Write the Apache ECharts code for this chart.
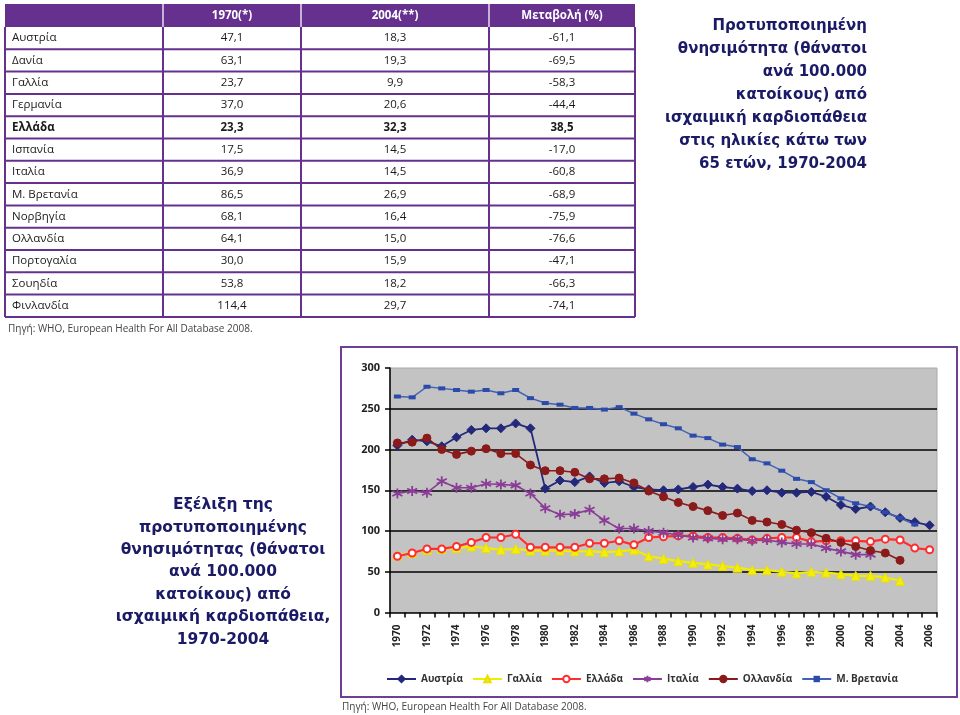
<!DOCTYPE html>
<html><head><meta charset="utf-8">
<script src="https://cdn.jsdelivr.net/npm/echarts@6/dist/echarts.min.js"></script>
<style>html,body{margin:0;padding:0;background:#fff}#main{width:960px;height:715px}</style>
</head><body><div id="main"></div>
<script>
// ---------- data ----------
const years = ['1970','1971','1972','1973','1974','1975','1976','1977','1978','1979',
  '1980','1981','1982','1983','1984','1985','1986','1987','1988','1989',
  '1990','1991','1992','1993','1994','1995','1996','1997','1998','1999',
  '2000','2001','2002','2003','2004','2005','2006'];
const austria = [205,212,210,204,215,224,226,226,232,226, 152,162,160,167,159,161,154,151,150,151,
  154,157,154,152,149,150,147,147,148,142, 132,127,130,123,116,111,107];
const france = [70,73,77,78,79,81,79,77,78,76, 76,76,75,75,74,75,77,69,66,63,
  61,59,57,55,52,52,50,48,50,49, 47,45,45,43,39,null,null];
const greece = [69,73,78,78,81,86,92,92,96,80, 80,80,80,85,85,88,83,92,93,94,
  94,92,92,91,89,91,92,92,87,88, 88,88,87,90,89,79,77];
const italy = [146,149,147,161,153,153,158,157,156,146, 128,120,121,126,113,103,103,100,98,95,
  92,91,90,90,88,89,86,84,84,79, 75,71,71,null,null,null,null];
const netherlands = [208,209,214,200,194,198,201,195,195,181, 174,174,172,164,164,165,159,149,142,135,
  130,125,119,122,113,111,108,101,98,91, 86,81,76,73,64,null,null];
const uk = [265,264,277,275,273,271,273,269,273,263, 257,255,251,251,249,252,244,237,231,226,
  217,214,206,203,188,183,174,164,160,150, 140,134,130,123,116,108,null];
const seriesNames = ['Αυστρία','Γαλλία','Ελλάδα','Ιταλία','Ολλανδία','Μ. Βρετανία'];
const yTicks = [0,50,100,150,200,250,300];

const tableHeader = ['', '1970(*)', '2004(**)', 'Μεταβολή (%)'];
const countries = ['Αυστρία','Δανία','Γαλλία','Γερμανία','Ελλάδα','Ισπανία','Ιταλία','Μ. Βρετανία','Νορβηγία','Ολλανδία','Πορτογαλία','Σουηδία','Φινλανδία'];
const rate1970 = ['47,1','63,1','23,7','37,0','23,3','17,5','36,9','86,5','68,1','64,1','30,0','53,8','114,4'];
const rate2004 = ['18,3','19,3','9,9','20,6','32,3','14,5','14,5','26,9','16,4','15,0','15,9','18,2','29,7'];
const changePct = ['-61,1','-69,5','-58,3','-44,4','38,5','-17,0','-60,8','-68,9','-75,9','-76,6','-47,1','-66,3','-74,1'];
const boldRow = 'Ελλάδα';

const titleRight = 'Προτυποποιημένη\nθνησιμότητα (θάνατοι\nανά 100.000\nκατοίκους) από\nισχαιμική καρδιοπάθεια\nστις ηλικίες κάτω των\n65 ετών, 1970-2004';
const titleLeft = 'Εξέλιξη της\nπροτυποποιημένης\nθνησιμότητας (θάνατοι\nανά 100.000\nκατοίκους) από\nισχαιμική καρδιοπάθεια,\n1970-2004';
const sourceText = 'Πηγή: WHO, European Health For All Database 2008.';

// ---------- layout ----------
const PURPLE = '#66308f';
const colX = [5, 163, 301, 489, 635];
const headTop = 4, headBot = 27, rowH = 22.3;
const tableFont = '11.5px "Open Sans", "DejaVu Sans", sans-serif';

const g = [];
g.push({type:'rect', shape:{x:colX[0], y:headTop, width:colX[4]-colX[0], height:headBot-headTop}, style:{fill:PURPLE}});
for (let c = 1; c < 4; c++) {
  g.push({type:'line', shape:{x1:colX[c], y1:headTop, x2:colX[c], y2:headBot}, style:{stroke:'#e6dcef', lineWidth:1.5}});
  g.push({type:'text', x:(colX[c]+colX[c+1])/2, y:(headTop+headBot)/2,
    style:{text:tableHeader[c], fill:'#fff', font:'bold 11.5px "Open Sans", "DejaVu Sans", sans-serif', textAlign:'center', textVerticalAlign:'middle'}});
}
const tableBottom = headBot + rowH*countries.length;
for (let c = 0; c < 5; c++) {
  g.push({type:'line', shape:{x1:colX[c], y1:headBot, x2:colX[c], y2:tableBottom}, style:{stroke:PURPLE, lineWidth:2}});
}
countries.forEach((name, i) => {
  const y1 = headBot + rowH*(i+1);
  g.push({type:'line', shape:{x1:colX[0], y1:y1, x2:colX[4], y2:y1}, style:{stroke:PURPLE, lineWidth:2}});
  const cy = headBot + rowH*(i+0.5);
  const f = (name === boldRow ? 'bold ' : '') + tableFont;
  g.push({type:'text', x:colX[0]+7, y:cy, style:{text:name, fill:'#1a1a1a', font:f, textAlign:'left', textVerticalAlign:'middle'}});
  [rate1970[i], rate2004[i], changePct[i]].forEach((t, k) => {
    g.push({type:'text', x:(colX[k+1]+colX[k+2])/2, y:cy, style:{text:t, fill:'#1a1a1a', font:f, textAlign:'center', textVerticalAlign:'middle'}});
  });
});
g.push({type:'text', x:8, y:329, style:{text:sourceText, fill:'#444', font:'10px "Open Sans", "DejaVu Sans", sans-serif', textAlign:'left', textVerticalAlign:'middle'}});
g.push({type:'text', x:342, y:707, style:{text:sourceText, fill:'#444', font:'10px "Open Sans", "DejaVu Sans", sans-serif', textAlign:'left', textVerticalAlign:'middle'}});
g.push({type:'text', x:867, y:15, style:{text:titleRight, fill:'#1a1a66', font:'bold 15px "DejaVu Sans", sans-serif', lineHeight:23, textAlign:'right', textVerticalAlign:'top'}});
g.push({type:'text', x:223, y:494, style:{text:titleLeft, fill:'#1a1a66', font:'bold 15.5px "DejaVu Sans", sans-serif', lineHeight:22.4, textAlign:'center', textVerticalAlign:'top'}});
g.push({type:'rect', shape:{x:341, y:347, width:616, height:350}, style:{fill:'none', stroke:'#6f3f95', lineWidth:2}});

const asterisk = 'path://M5,0 L5,10 M0.67,2.5 L9.33,7.5 M0.67,7.5 L9.33,2.5';
function mk(name, data, color, symbol, size, lw, extra) {
  return Object.assign({
    name, type:'line', data, symbol, symbolSize:size, showAllSymbol:true,
    connectNulls:false,
    lineStyle:{color, width:lw}, itemStyle:{color, borderColor:color, borderWidth:1},
    emphasis:{disabled:true}, animation:false
  }, extra || {});
}

const option = {
  backgroundColor:'#fff',
  animation:false,
  graphic:{elements:g},
  grid:{left:390, right:23, top:368, bottom:102.5, show:true, backgroundColor:'#c3c3c3', borderColor:'#a8a8a8', borderWidth:1, containLabel:false},
  legend:{
    data:seriesNames, left:381, top:669, width:600, itemWidth:29, itemHeight:8, itemGap:9,
    textStyle:{fontSize:10, fontWeight:'bold', color:'#333', fontFamily:'"Open Sans", "DejaVu Sans", sans-serif'}
  },
  xAxis:{
    type:'category', data:years, boundaryGap:true,
    axisLine:{lineStyle:{color:'#000', width:1.5}},
    axisTick:{show:true, interval:0, length:5, lineStyle:{color:'#000', width:1.5}},
    axisLabel:{interval:1, rotate:90, margin:12, fontSize:10, fontWeight:'bold', color:'#222', fontFamily:'"Open Sans", "DejaVu Sans", sans-serif'},
    splitLine:{show:false}
  },
  yAxis:{
    type:'value', min:yTicks[0], max:yTicks[yTicks.length-1], interval:50,
    axisLine:{show:true, lineStyle:{color:'#000', width:1.5}},
    axisTick:{show:true, length:5, lineStyle:{color:'#000', width:1.5}},
    axisLabel:{fontSize:11, fontWeight:'bold', color:'#222', margin:10, fontFamily:'"Open Sans", "DejaVu Sans", sans-serif'},
    splitLine:{show:true, showMaxLine:false, showMinLine:false, lineStyle:{color:'#000', width:1.5}}
  },
  series:[
    mk(seriesNames[0], austria, '#23287a', 'diamond', 9, 1.8),
    mk(seriesNames[1], france, '#f2ec00', 'triangle', 9, 2.2, {itemStyle:{color:'#f4ee10', borderColor:'#e8e000', borderWidth:1}}),
    mk(seriesNames[2], greece, '#ff2d2d', 'emptyCircle', 7, 2.2, {itemStyle:{color:'#ff2d2d', borderColor:'#ff2d2d', borderWidth:1.8}}),
    mk(seriesNames[3], italy, '#8a3d97', asterisk, 10, 1.6, {itemStyle:{color:'#8a3d97', borderColor:'#8a3d97', borderWidth:1.8}}),
    mk(seriesNames[4], netherlands, '#8b1a1a', 'circle', 8, 1.6),
    mk(seriesNames[5], uk, '#4361b8', 'rect', [7,4], 1.5, {itemStyle:{color:'#2c4aa8', borderColor:'#2c4aa8', borderWidth:0}})
  ]
};
const chart = echarts.init(document.getElementById('main'), null, {renderer:'canvas'});
chart.setOption(option);
</script>
</body></html>
